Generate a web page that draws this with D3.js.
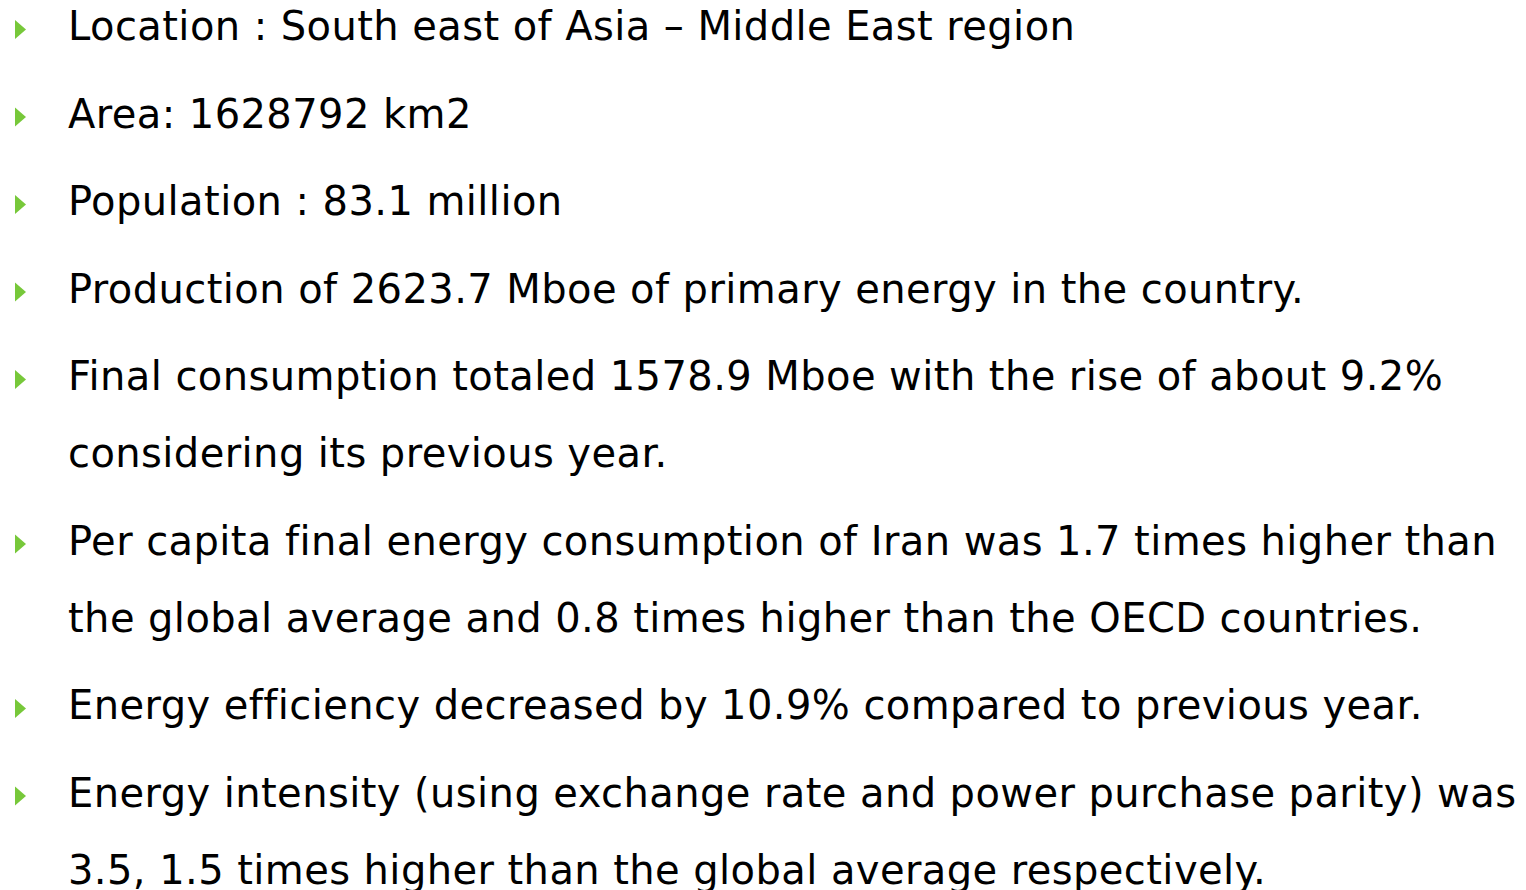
<!DOCTYPE html>
<html>
<head>
<meta charset="utf-8">
<script src="https://cdn.jsdelivr.net/npm/d3@7"></script>
<style>
  html, body { margin: 0; padding: 0; background: #fff; }
  svg { display: block; }
</style>
</head>
<body>
<div id="slide"></div>
<script>
// bullet items; each entry is a list of wrapped lines
const bullets = [
  ["Location : South east of Asia \u2013 Middle East region"],
  ["Area: 1628792 km2"],
  ["Population : 83.1 million"],
  ["Production of 2623.7 Mboe of primary energy in the country."],
  ["Final consumption totaled 1578.9 Mboe with the rise of about 9.2%",
   "considering its previous year."],
  ["Per capita final energy consumption of Iran was 1.7 times higher than",
   "the global average and 0.8 times higher than the OECD countries."],
  ["Energy efficiency decreased by 10.9% compared to previous year."],
  ["Energy intensity (using exchange rate and power purchase parity) was",
   "3.5, 1.5 times higher than the global average respectively."]
];

const width = 1526, height = 890;
const textX = 68, bulletX = 15;
const firstBase = 40, bulletGap = 87.5, lineGap = 77;

const svg = d3.select("#slide").append("svg")
  .attr("width", width).attr("height", height);

// --- layout: baseline of every line ---
let y = firstBase;
const rows = [];
bullets.forEach((lines, i) => {
  if (i > 0) y += bulletGap;
  lines.forEach((t, j) => {
    if (j > 0) y += lineGap;
    rows.push({ text: t, y, first: j === 0 });
  });
});

const g = svg.append("g");

// --- bullets: green triangles ---
g.selectAll("path.bullet")
  .data(rows.filter(d => d.first))
  .join("path")
  .attr("class", "bullet")
  .attr("d", d => `M${bulletX},${d.y - 20} L${bulletX + 11},${d.y - 10.5} L${bulletX},${d.y - 1} Z`)
  .attr("fill", "#77c83a");

// --- text ---
g.selectAll("text.line")
  .data(rows)
  .join("text")
  .attr("class", "line")
  .attr("x", textX)
  .attr("y", d => d.y)
  .attr("font-family", "DejaVu Sans, sans-serif")
  .attr("font-size", 40)
  .attr("letter-spacing", 0.42)
  .attr("fill", "#000")
  .text(d => d.text);
</script>
</body>
</html>
